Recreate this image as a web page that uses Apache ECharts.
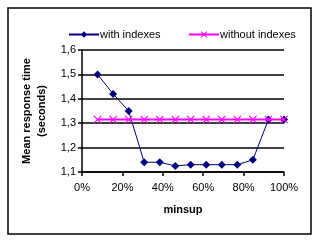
<!DOCTYPE html>
<html><head><meta charset="utf-8">
<script src="https://cdn.jsdelivr.net/npm/echarts@6/dist/echarts.min.js"></script>
<style>html,body{margin:0;padding:0;background:#fff}#c{width:321px;height:242px}</style>
</head><body><div id="c"></div>
<script>
var minsup = [7.7, 15.4, 23.1, 30.8, 38.5, 46.2, 53.8, 61.5, 69.2, 76.9, 84.6, 92.3, 100];
var withIndexes = [1.5, 1.42, 1.35, 1.14, 1.14, 1.125, 1.13, 1.13, 1.13, 1.13, 1.15, 1.315, 1.315];
var withoutIndexes = [1.315, 1.315, 1.315, 1.315, 1.315, 1.315, 1.315, 1.315, 1.315, 1.315, 1.315, 1.315, 1.315];
var seriesNames = ['with indexes', 'without indexes'];
var yTitle = 'Mean response time\n(seconds)';
var xTitle = 'minsup';

function pairs(xs, ys){ return xs.map(function(x,i){ return [x, ys[i]]; }); }
var xMark = 'path://M0,1L1,0L5,4L9,0L10,1L6,5L10,9L9,10L5,6L1,10L0,9L4,5Z';
var font = 'Liberation Sans, Arial, sans-serif';
var chart = echarts.init(document.getElementById('c'), null, {renderer:'canvas'});
chart.setOption({
  animation:false,
  textStyle:{fontFamily:font},
  graphic:[{type:'rect', shape:{x:8,y:8,width:303,height:226}, style:{fill:'none', stroke:'#000', lineWidth:1.5}, z:-1}],
  legend:[
    {data:[seriesNames[0]], left:63, top:24, itemWidth:30, itemHeight:8, textStyle:{fontSize:11, color:'#000', fontFamily:font, padding:[0,0,0,-4]}},
    {data:[seriesNames[1]], left:183, top:24, itemWidth:30, itemHeight:8, textStyle:{fontSize:11, color:'#000', fontFamily:font, padding:[0,0,0,-4]}}
  ],
  grid:{left:82, right:37, top:50, bottom:70, containLabel:false},
  xAxis:{type:'value', min:0, max:100, interval:20,
    axisLine:{lineStyle:{color:'#000', width:1.5}},
    axisTick:{show:true, length:4, lineStyle:{color:'#000', width:1.5}},
    axisLabel:{formatter:'{value}%', color:'#000', fontSize:11, margin:10, fontFamily:font},
    splitLine:{show:false},
    name:xTitle, nameLocation:'middle', nameGap:32,
    nameTextStyle:{fontWeight:'bold', fontSize:11, color:'#000', fontFamily:font}},
  yAxis:{type:'value', min:1.1, max:1.6, interval:0.1,
    axisLine:{show:true, lineStyle:{color:'#000', width:1.5}},
    axisTick:{show:true, length:4, lineStyle:{color:'#000', width:1.5}},
    axisLabel:{formatter:function(v){return v.toFixed(1).replace('.',',');}, color:'#000', fontSize:11, margin:6, fontFamily:font},
    splitLine:{show:true, lineStyle:{color:'#000', width:1.5}},
    name:yTitle, nameLocation:'middle', nameGap:31, nameRotate:90,
    nameTextStyle:{fontWeight:'bold', fontSize:11, color:'#000', fontFamily:font, lineHeight:15}},
  series:[
    {name:seriesNames[0], type:'line', data:pairs(minsup, withIndexes), symbol:'diamond', symbolSize:8,
     lineStyle:{color:'#000080', width:1}, itemStyle:{color:'#000080'}, z:2},
    {name:seriesNames[1], type:'line', data:pairs(minsup, withoutIndexes), symbol:xMark, symbolSize:8,
     lineStyle:{color:'#FF00FF', width:2}, itemStyle:{color:'#FF00FF'}, z:3}
  ]
});
</script></body></html>
